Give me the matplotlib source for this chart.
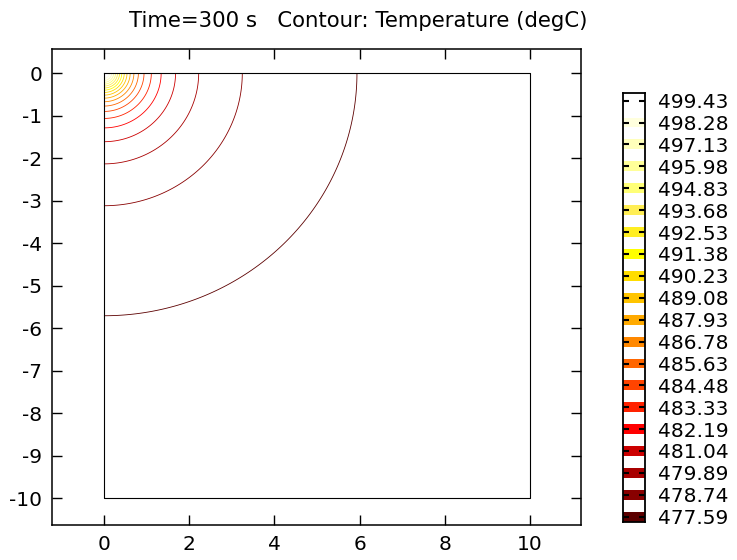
import numpy as np
import matplotlib
matplotlib.use("Agg")
import matplotlib.pyplot as plt

plt.rcParams["axes.unicode_minus"] = False

# contour levels shown in the legend (degC)
levels = [477.59, 478.74, 479.89, 481.04, 482.19, 483.33, 484.48, 485.63,
          486.78, 487.93, 489.08, 490.23, 491.38, 492.53, 493.68, 494.83,
          495.98, 497.13, 498.28, 499.43]
level_colors = ["#5c0000", "#880000", "#a80000", "#cc0000", "#ff0000",
                "#ff2200", "#ff4400", "#ff6600", "#ff8800", "#ffaa00",
                "#ffc400", "#ffdd00", "#ffff00", "#ffee22", "#ffee55",
                "#ffff77", "#ffff99", "#ffffbb", "#ffffdd", "#ffffff"]
x_ticks = [0, 2, 4, 6, 8, 10]
y_ticks = [0, -1, -2, -3, -4, -5, -6, -7, -8, -9, -10]

# point heat source at the corner (0, 0), smoothed near the source
t_amb = 476.19
q = 8.01
a = 0.34
sx = 1.04

x = np.linspace(0, 10, 900)
y = np.linspace(-10, 0, 900)
X, Y = np.meshgrid(x, y)
R = np.sqrt((X / sx) ** 2 + Y ** 2 + a ** 2)
T = t_amb + q / R

fig = plt.figure(figsize=(7.37, 5.6), dpi=100)
W, H = 737, 560
ax = fig.add_axes([52 / W, 1 - 525 / H, (581 - 52) / W, (525 - 49) / H])

ax.contour(X, Y, T, levels=levels, colors=level_colors, linewidths=0.6)
ax.plot([0, 10, 10, 0, 0], [0, 0, -10, -10, 0], color="black", lw=0.8)

ax.set_xlim(-1.22, 11.2)
ax.set_ylim(-10.635, 0.565)
ax.set_xticks(x_ticks)
ax.set_yticks(y_ticks)
ax.tick_params(direction="in", length=7.5, width=1.0, top=True, right=True,
               labelsize=14.5, pad=7)
for s in ax.spines.values():
    s.set_linewidth(1.1)

fig.text(358 / W, 1 - 21 / H, "Time=300 s   Contour: Temperature (degC)",
         ha="center", va="center", fontsize=15.3)

# legend of the contour levels
cax = fig.add_axes([623 / W, 1 - 522 / H, 21.5 / W, (522 - 93) / H])
cax.set_xlim(0, 1)
cax.set_ylim(477.31, 499.83)
for lv, c in zip(levels, level_colors):
    cax.axhspan(lv - 0.26, lv + 0.26, color=c, lw=0)
cax.set_xticks([])
cax.set_yticks(levels)
cax.set_yticklabels(["%.2f" % v for v in levels])
cax.tick_params(axis="y", direction="in", length=4.3, width=1.5, left=True,
                right=True, labelleft=False, labelright=True, labelsize=14.5,
                pad=10)
for s in cax.spines.values():
    s.set_linewidth(1.3)

fig.savefig("out.png", dpi=100)
